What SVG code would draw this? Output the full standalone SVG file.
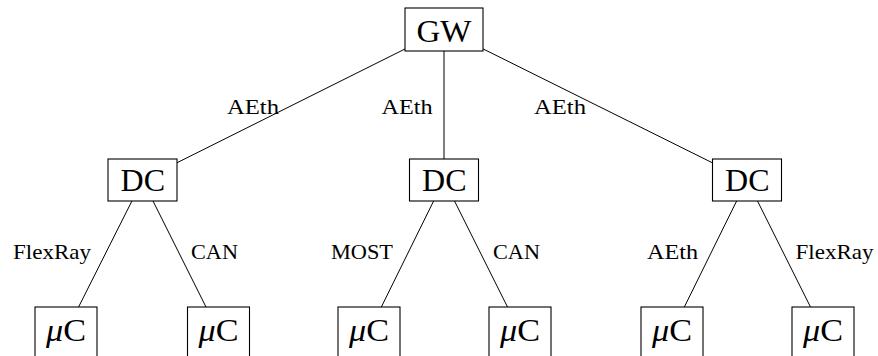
<svg xmlns="http://www.w3.org/2000/svg" width="878" height="356" viewBox="0 0 878 356">
  <style>
    .box { fill: #ffffff; stroke: #000000; stroke-width: 1.1; }
    .edge { stroke: #000000; stroke-width: 1; fill: none; }
    .node-text { font-size: 31px; fill: #000000; }
    .lbl { font-size: 21.5px; fill: #000000; }
  </style>
  <rect width="878" height="356" fill="#ffffff"/>

  <!-- links between the nodes, clipped at the node borders -->
  <g id="connectors">
    <line class="edge" x1="405" y1="48.97" x2="177" y2="162.78"/>
    <line class="edge" x1="444" y1="51" x2="444" y2="159"/>
    <line class="edge" x1="483" y1="48.87" x2="712.5" y2="162.86"/>
    <line class="edge" x1="131.93" y1="201" x2="78.58" y2="307"/>
    <line class="edge" x1="153" y1="201" x2="206" y2="307"/>
    <line class="edge" x1="433.64" y1="201" x2="381.34" y2="307"/>
    <line class="edge" x1="454.5" y1="201" x2="507.5" y2="307"/>
    <line class="edge" x1="736.64" y1="201" x2="684.34" y2="307"/>
    <line class="edge" x1="757.5" y1="201" x2="810.5" y2="307"/>
  </g>

  <g font-family="Times New Roman, Liberation Serif, Tinos, DejaVu Serif, Noto Serif, serif">
  <!-- link labels -->
  <g id="labels">
    <text class="lbl" x="227" y="114" textLength="52" lengthAdjust="spacingAndGlyphs">AEth</text>
    <text class="lbl" x="381.5" y="113.5" textLength="51" lengthAdjust="spacingAndGlyphs">AEth</text>
    <text class="lbl" x="534" y="114" textLength="52" lengthAdjust="spacingAndGlyphs">AEth</text>
    <text class="lbl" x="13" y="258.5" textLength="78" lengthAdjust="spacingAndGlyphs">FlexRay</text>
    <text class="lbl" x="191" y="258.5" textLength="47" lengthAdjust="spacingAndGlyphs">CAN</text>
    <text class="lbl" x="331" y="258.5" textLength="62" lengthAdjust="spacingAndGlyphs">MOST</text>
    <text class="lbl" x="493" y="258.5" textLength="47" lengthAdjust="spacingAndGlyphs">CAN</text>
    <text class="lbl" x="647" y="258.5" textLength="51" lengthAdjust="spacingAndGlyphs">AEth</text>
    <text class="lbl" x="795.5" y="258.5" textLength="78" lengthAdjust="spacingAndGlyphs">FlexRay</text>
  </g>

  <!-- gateway -->
  <g id="gw">
    <rect class="box" x="405" y="8" width="78" height="43"/>
    <text class="node-text" x="416.5" y="41.5" textLength="55" lengthAdjust="spacingAndGlyphs">GW</text>
  </g>

  <!-- domain controllers -->
  <g id="dc1">
    <rect class="box" x="108" y="159" width="69" height="42"/>
    <text class="node-text" x="120.5" y="190.5" textLength="44.5" lengthAdjust="spacingAndGlyphs">DC</text>
  </g>
  <g id="dc2">
    <rect class="box" x="409.5" y="159" width="69" height="42"/>
    <text class="node-text" x="422" y="190.5" textLength="44.5" lengthAdjust="spacingAndGlyphs">DC</text>
  </g>
  <g id="dc3">
    <rect class="box" x="712.5" y="159" width="69" height="42"/>
    <text class="node-text" x="725" y="190.5" textLength="44.5" lengthAdjust="spacingAndGlyphs">DC</text>
  </g>

  <!-- microcontrollers -->
  <g id="uc1">
    <rect class="box" x="35" y="307" width="62" height="50"/>
    <text class="node-text" x="46" y="340.5" textLength="40" lengthAdjust="spacingAndGlyphs"><tspan font-style="italic">μ</tspan>C</text>
  </g>
  <g id="uc2">
    <rect class="box" x="187.5" y="307" width="62" height="50"/>
    <text class="node-text" x="198.5" y="340.5" textLength="40" lengthAdjust="spacingAndGlyphs"><tspan font-style="italic">μ</tspan>C</text>
  </g>
  <g id="uc3">
    <rect class="box" x="338" y="307" width="62" height="50"/>
    <text class="node-text" x="349" y="340.5" textLength="40" lengthAdjust="spacingAndGlyphs"><tspan font-style="italic">μ</tspan>C</text>
  </g>
  <g id="uc4">
    <rect class="box" x="489" y="307" width="62" height="50"/>
    <text class="node-text" x="500" y="340.5" textLength="40" lengthAdjust="spacingAndGlyphs"><tspan font-style="italic">μ</tspan>C</text>
  </g>
  <g id="uc5">
    <rect class="box" x="641" y="307" width="62" height="50"/>
    <text class="node-text" x="652" y="340.5" textLength="40" lengthAdjust="spacingAndGlyphs"><tspan font-style="italic">μ</tspan>C</text>
  </g>
  <g id="uc6">
    <rect class="box" x="792" y="307" width="62" height="50"/>
    <text class="node-text" x="803" y="340.5" textLength="40" lengthAdjust="spacingAndGlyphs"><tspan font-style="italic">μ</tspan>C</text>
  </g>
  </g>
</svg>
